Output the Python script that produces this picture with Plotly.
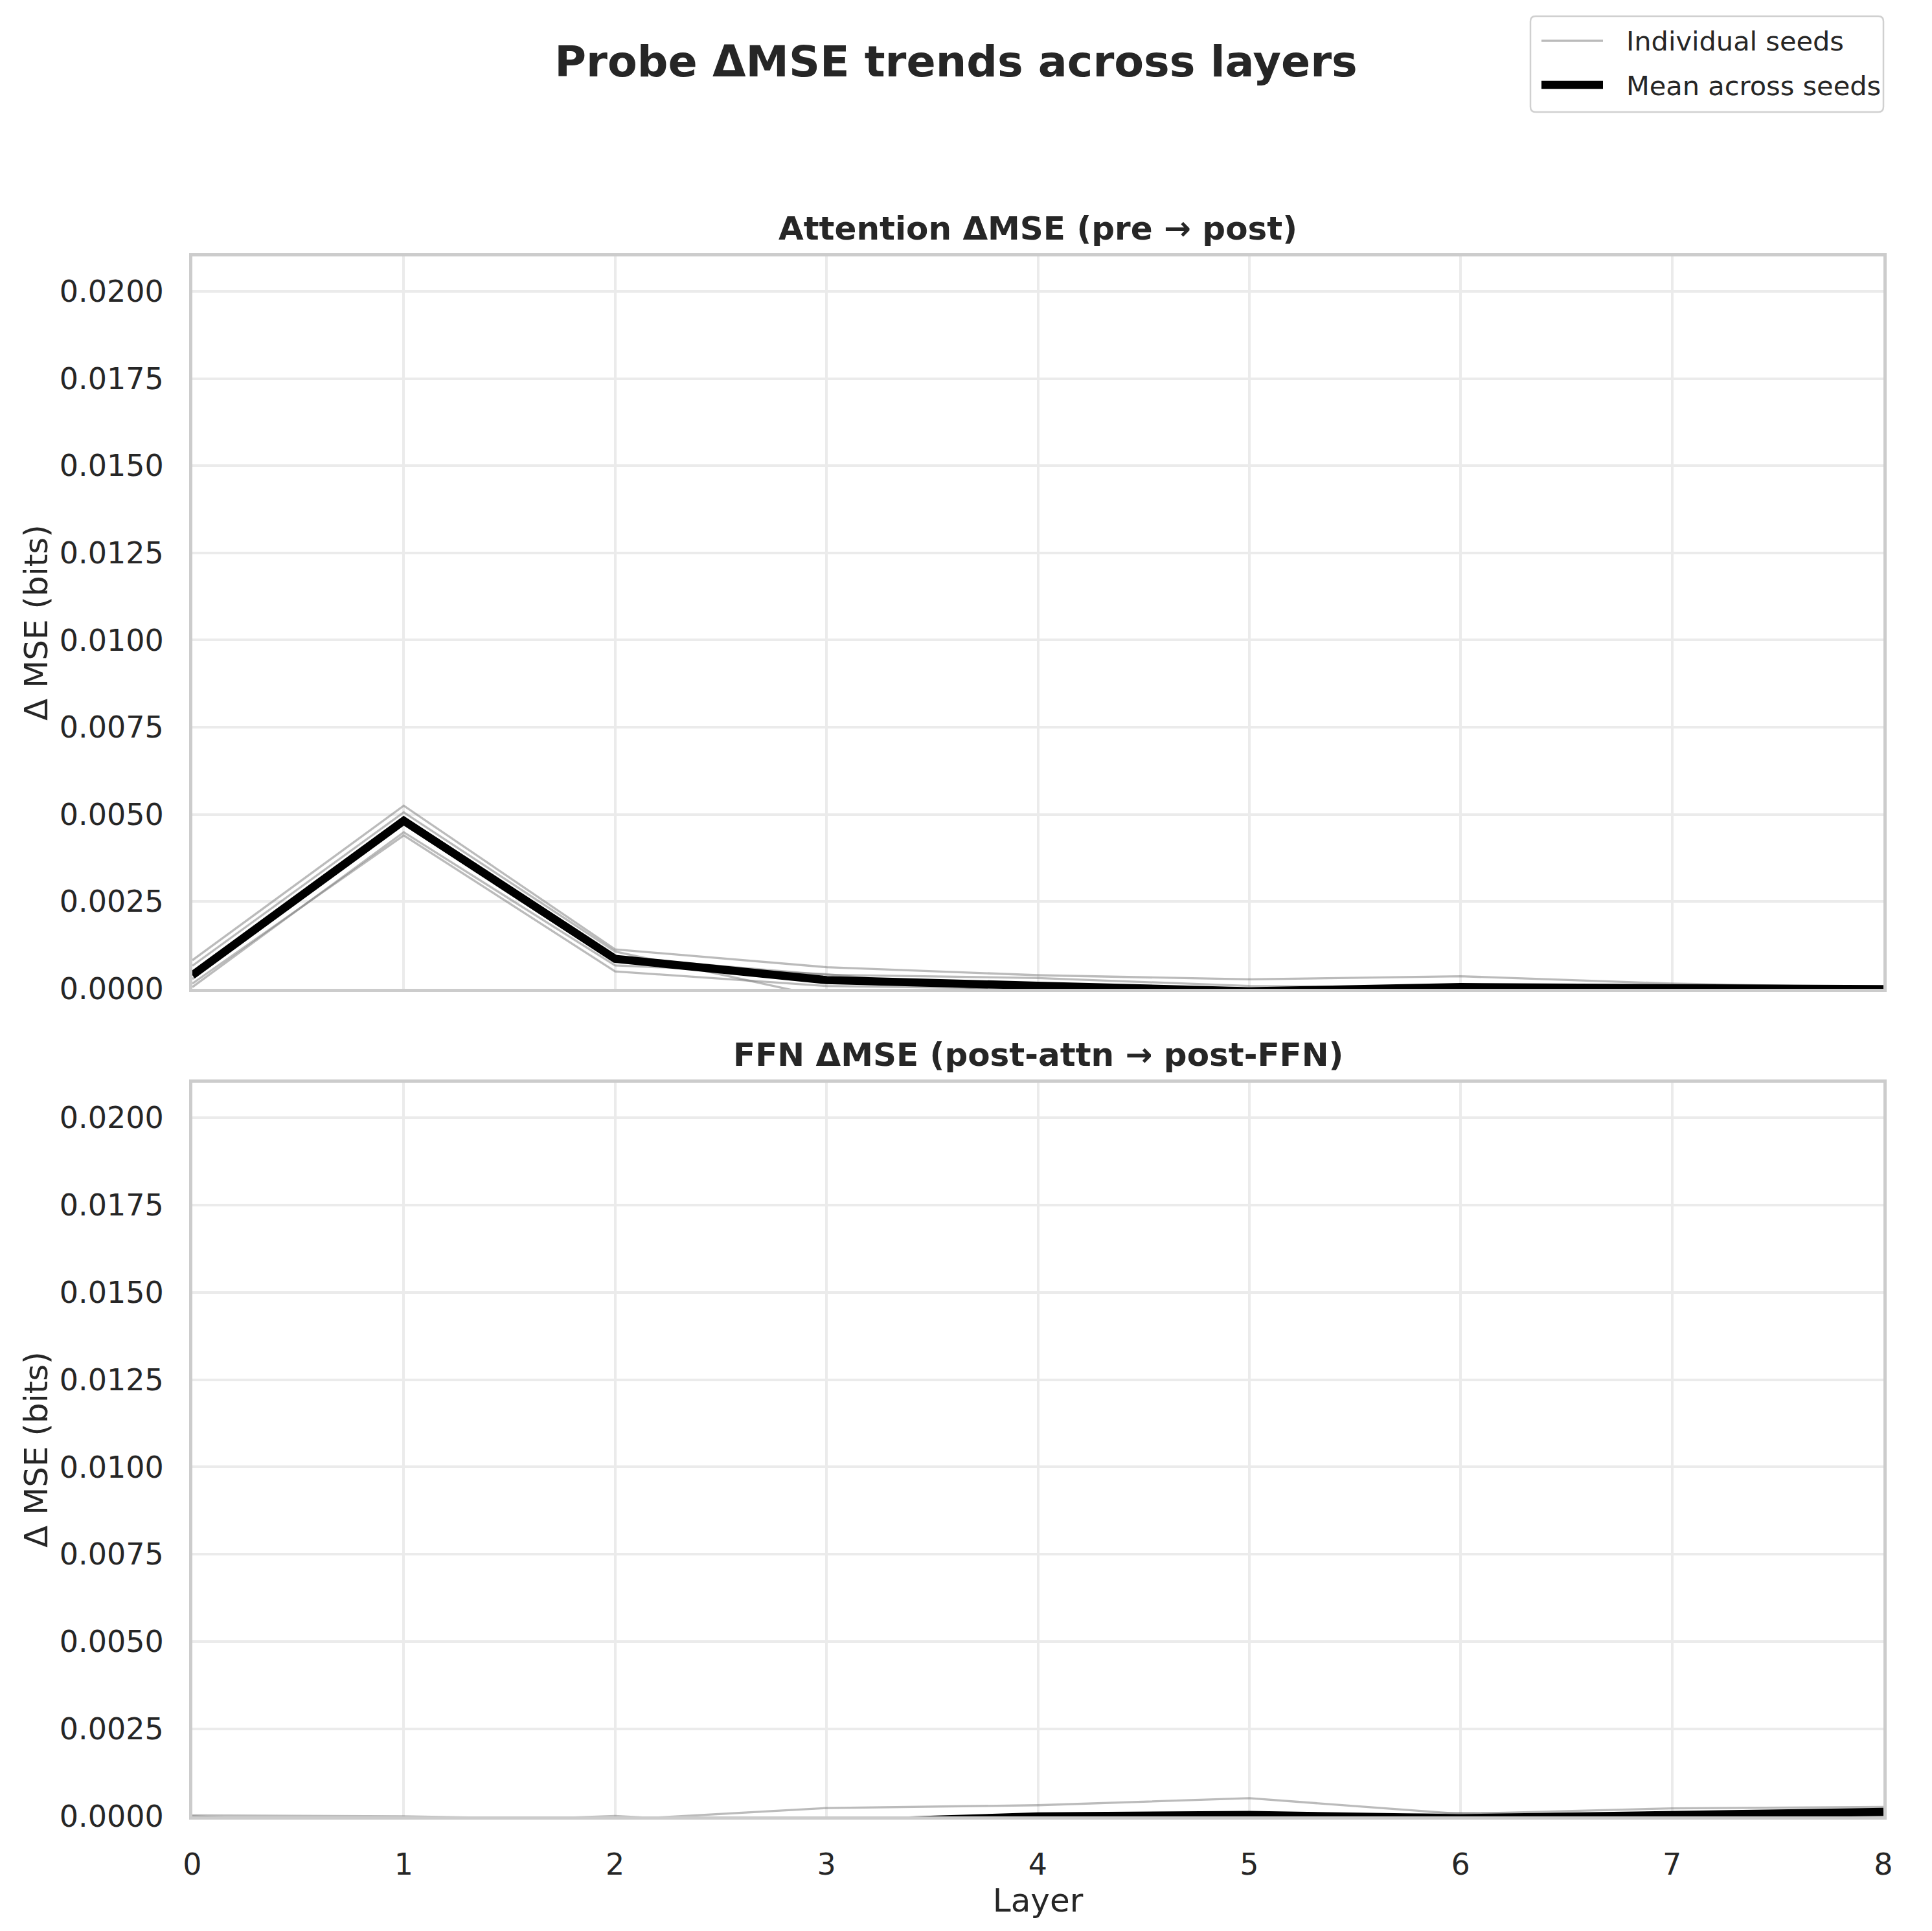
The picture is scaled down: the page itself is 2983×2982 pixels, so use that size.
import plotly.graph_objects as go
from plotly.subplots import make_subplots

# ── Data ─────────────────────────────────────────────────────────────────────
LAYERS = [0, 1, 2, 3, 4, 5, 6, 7, 8]

# Attention ΔMSE (pre → post), one row per seed
ATTN_SEED_1 = [0.00082, 0.00525, 0.00113, 0.00062, 0.00039, 0.00027, 0.00036, 0.00015, 0.00003]
ATTN_SEED_2 = [0.00066, 0.00506, 0.00107, -0.00025, 0.00010, -0.00005, 0.00000, 0.00000, -0.00002]
ATTN_SEED_3 = [0.00028, 0.00490, 0.00091, 0.00040, 0.00031, 0.00008, 0.00002, 0.00005, 0.00000]
ATTN_SEED_4 = [0.00005, 0.00449, 0.00067, 0.00042, -0.00015, -0.00030, -0.00010, -0.00002, -0.00001]
ATTN_SEED_5 = [0.00015, 0.00440, 0.00050, 0.00008, 0.00000, -0.00022, -0.00004, -0.00010, 0.00000]
ATTN_MEAN = [0.00039, 0.00482, 0.00086, 0.00025, 0.00009, -0.00007, 0.00005, 0.00002, -0.00001]

# FFN ΔMSE (post-attn → post-FFN)
FFN_SEED_1 = [0.00003, 0.00000, -0.00010, 0.00024, 0.00032, 0.00052, 0.00007, 0.00023, 0.00027]
FFN_SEED_2 = [0.00000, -0.00020, 0.00001, -0.00030, -0.00010, -0.00010, -0.00020, 0.00000, 0.00010]
FFN_SEED_3 = [-0.00030, -0.00040, -0.00030, -0.00020, -0.00010, 0.00000, -0.00010, 0.00005, 0.00010]
FFN_SEED_4 = [-0.00040, -0.00050, -0.00030, -0.00030, -0.00010, -0.00010, -0.00010, -0.00005, 0.00010]
FFN_SEED_5 = [-0.00030, -0.00040, -0.00030, -0.00040, -0.00002, -0.00010, 0.00010, 0.00000, 0.00003]
FFN_MEAN = [-0.00019, -0.00030, -0.00020, -0.00019, 0.00000, 0.00004, -0.00005, 0.00005, 0.00013]

ATTN_SEEDS = [ATTN_SEED_1, ATTN_SEED_2, ATTN_SEED_3, ATTN_SEED_4, ATTN_SEED_5]
FFN_SEEDS = [FFN_SEED_1, FFN_SEED_2, FFN_SEED_3, FFN_SEED_4, FFN_SEED_5]

Y_TICKS = [0.0, 0.0025, 0.005, 0.0075, 0.01, 0.0125, 0.015, 0.0175, 0.02]
Y_TICK_TEXT = ['0.0000', '0.0025', '0.0050', '0.0075', '0.0100',
               '0.0125', '0.0150', '0.0175', '0.0200']

TITLE = 'Probe ΔMSE trends across layers'
PANEL_TITLES = ['Attention ΔMSE (pre → post)', 'FFN ΔMSE (post-attn → post-FFN)']

# ── Style ────────────────────────────────────────────────────────────────────
FONT = 'DejaVu Sans, sans-serif'
TEXT = '#262626'
SEED_COLOR = 'rgba(120,120,120,0.5)'
GRID = '#ebebeb'
SPINE = '#cccccc'

W, H = 2983, 2982
OFF = 6   # page body margin pushes the figure down/right a little
# plot area in screen pixels: x 295..2906, y 394..2803
M_L = 295 - OFF
M_T = 394 - OFF
M_R = W - (2906 - OFF)
M_B = H - (2803 - OFF)
PLOT_W = W - M_L - M_R
PLOT_H = H - M_T - M_B


def px_x(px):
    return (px - OFF - M_L) / PLOT_W


def px_y(py):
    return (H - M_B - (py - OFF)) / PLOT_H


fig = make_subplots(rows=2, cols=1, shared_xaxes=True, vertical_spacing=0.06)

for row, (seeds, mean) in enumerate([(ATTN_SEEDS, ATTN_MEAN), (FFN_SEEDS, FFN_MEAN)], start=1):
    for s in seeds:
        fig.add_trace(go.Scatter(
            x=LAYERS, y=s, mode='lines',
            line=dict(color=SEED_COLOR, width=3.3),
            showlegend=False, hoverinfo='skip',
        ), row=row, col=1)
    fig.add_trace(go.Scatter(
        x=LAYERS, y=mean, mode='lines',
        line=dict(color='black', width=12.5),
        showlegend=False,
    ), row=row, col=1)

fig.update_layout(
    width=W, height=H,
    margin=dict(l=M_L, r=M_R, t=M_T, b=M_B, autoexpand=False),
    plot_bgcolor='white', paper_bgcolor='white',
    font=dict(family=FONT, size=46, color=TEXT),
    showlegend=False,
    title=dict(
        text=f'<b>{TITLE}</b>',
        font=dict(size=66.7, color=TEXT, family=FONT),
        x=(1476 - 8) / W, xanchor='center', xref='container',
        y=1 - (95 - 8) / H, yanchor='middle', yref='container',
    ),
)

common_axis = dict(
    showgrid=True, gridcolor=GRID, gridwidth=3.5,
    showline=True, mirror=True, linecolor=SPINE, linewidth=5,
    zeroline=False, ticks='',
    tickfont=dict(size=46, color=TEXT, family=FONT),
)

fig.update_xaxes(
    range=[0, 8], tickvals=LAYERS, ticktext=[str(v) for v in LAYERS],
    ticklabelstandoff=30, **common_axis,
)
fig.update_xaxes(showticklabels=False, row=1, col=1)
fig.update_xaxes(
    title=dict(text='Layer', font=dict(size=50, color=TEXT, family=FONT), standoff=0),
    row=2, col=1,
)
fig.update_yaxes(
    range=[0, 0.021], tickvals=Y_TICKS, ticktext=Y_TICK_TEXT,
    ticklabelstandoff=30,
    title=dict(text='Δ MSE (bits)', font=dict(size=50, color=TEXT, family=FONT), standoff=4),
    **common_axis,
)
fig.update_layout(
    yaxis=dict(domain=[px_y(1525), 1.0]),
    yaxis2=dict(domain=[0.0, px_y(1670)]),
)

# Panel titles
fig.layout.annotations = []
for title, cy in zip(PANEL_TITLES, [351, 1627]):
    fig.add_annotation(
        text=f'<b>{title}</b>', xref='paper', yref='paper',
        x=0.5, y=px_y(cy), xanchor='center', yanchor='middle',
        showarrow=False, font=dict(size=50, color=TEXT, family=FONT),
    )

# Legend box (top right)
bx0, bx1, by0, by1 = px_x(2361), px_x(2906), px_y(171), px_y(23)
r = 8 / PLOT_W
ry = 8 / PLOT_H
fig.add_shape(
    type='path', xref='paper', yref='paper',
    path=(f'M {bx0 + r},{by1} L {bx1 - r},{by1} Q {bx1},{by1} {bx1},{by1 - ry} '
          f'L {bx1},{by0 + ry} Q {bx1},{by0} {bx1 - r},{by0} '
          f'L {bx0 + r},{by0} Q {bx0},{by0} {bx0},{by0 + ry} '
          f'L {bx0},{by1 - ry} Q {bx0},{by1} {bx0 + r},{by1} Z'),
    line=dict(color='#d0d0d0', width=2.5), fillcolor='rgba(255,255,255,0.8)',
)
for label, cy, color, width in [
    ('Individual seeds', 61, '#bbbbbb', 3.3),
    ('Mean across seeds', 129, 'black', 12.5),
]:
    fig.add_shape(
        type='line', xref='paper', yref='paper',
        x0=px_x(2378), x1=px_x(2473), y0=px_y(cy), y1=px_y(cy),
        line=dict(color=color, width=width),
    )
    fig.add_annotation(
        text=label, xref='paper', yref='paper',
        x=px_x(2507), y=px_y(cy + 1), xanchor='left', yanchor='middle',
        showarrow=False, font=dict(size=41.5, color=TEXT, family=FONT),
    )

fig.write_html('out.html')
